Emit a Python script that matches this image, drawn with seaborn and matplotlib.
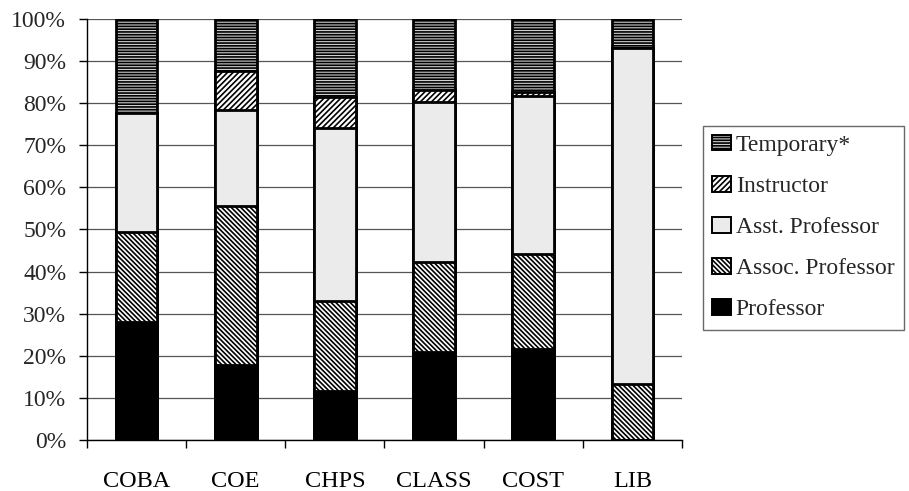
import numpy as np
import pandas as pd
import seaborn as sns
import matplotlib
matplotlib.use("Agg")
import matplotlib.pyplot as plt
from matplotlib.patches import Patch
from matplotlib.ticker import PercentFormatter, FixedLocator, NullFormatter

# Faculty composition by college (percent of each college's faculty)
colleges = ["COBA", "COE", "CHPS", "CLASS", "COST", "LIB"]
professor = [28.1, 17.8, 11.7, 20.8, 21.6, 0.0]
assoc_professor = [21.3, 37.7, 21.2, 21.5, 22.6, 13.4]
asst_professor = [28.2, 22.9, 41.3, 38.0, 37.6, 79.7]
instructor = [0.0, 9.3, 7.3, 2.9, 0.9, 0.0]
temporary = [22.4, 12.3, 18.5, 16.8, 17.3, 6.9]

ranks = ["Professor", "Assoc. Professor", "Asst. Professor", "Instructor", "Temporary*"]
series = [professor, assoc_professor, asst_professor, instructor, temporary]

styles = {
    "Professor": dict(facecolor="black", hatch=None),
    "Assoc. Professor": dict(facecolor="white", hatch="\\" * 7),
    "Asst. Professor": dict(facecolor="#ebebeb", hatch=None),
    "Instructor": dict(facecolor="white", hatch="/" * 6),
    "Temporary*": dict(facecolor="#cfcfcf", hatch="-" * 6),
}

df = pd.DataFrame(dict(zip(ranks, series)), index=colleges)
shares = df.div(df.sum(axis=1), axis=0)
tops = shares.cumsum(axis=1)

sns.set_theme(style="white")
plt.rcParams["font.family"] = ["Liberation Serif", "DejaVu Serif"]
plt.rcParams["hatch.linewidth"] = 1.2

fig = plt.figure(figsize=(9.09, 4.91), dpi=100)
ax = fig.add_axes([0.0957, 0.1039, 0.6545, 0.8574])

# Stacked bars: draw cumulative tops from the highest segment down
for rank in reversed(ranks):
    st = styles[rank]
    sns.barplot(
        x=colleges, y=tops[rank].values, order=colleges, ax=ax,
        color=st["facecolor"], saturation=1, hatch=st["hatch"],
        edgecolor="black", linewidth=2.0, width=0.42, errorbar=None,
        zorder=3,
    )
for p in ax.patches:
    p.set_zorder(3)

ax.set_xlim(-0.5, len(colleges) - 0.5)
ax.set_ylim(0, 1)
ax.yaxis.set_major_locator(FixedLocator(np.linspace(0, 1, 11)))
ax.yaxis.set_major_formatter(PercentFormatter(1.0, decimals=0))
ax.grid(axis="y", color="#555555", linewidth=0.9, zorder=0)
ax.set_axisbelow(True)

ax.xaxis.set_minor_locator(FixedLocator(np.arange(-0.5, len(colleges), 1.0)))
ax.xaxis.set_minor_formatter(NullFormatter())
ax.tick_params(axis="x", which="major", length=0, pad=22, labelsize=17.5, colors="black")
ax.tick_params(axis="x", which="minor", length=6, width=1, direction="out", color="black", bottom=True)
ax.tick_params(axis="y", which="major", length=6, width=1, direction="out", color="black",
               left=True, labelsize=17, pad=9)
ax.set_xlabel("")
ax.set_ylabel("")

for side in ["top", "right"]:
    ax.spines[side].set_visible(False)
for side in ["left", "bottom"]:
    ax.spines[side].set_color("black")
    ax.spines[side].set_linewidth(1.0)

handles = [
    Patch(facecolor=styles[r]["facecolor"], hatch=styles[r]["hatch"], edgecolor="black",
          linewidth=1.4, label=r)
    for r in reversed(ranks)
]
leg = fig.legend(
    handles=handles, loc="upper left", bbox_to_anchor=(0.773, 0.744),
    frameon=True, fancybox=False, shadow=False, fontsize=17,
    handlelength=0.8, handleheight=0.62, handletextpad=0.2,
    labelspacing=0.85, borderpad=0.4, borderaxespad=0.0,
)
leg.get_frame().set_edgecolor("#444444")
leg.get_frame().set_linewidth(1.0)

fig.savefig("out.png", dpi=100)
